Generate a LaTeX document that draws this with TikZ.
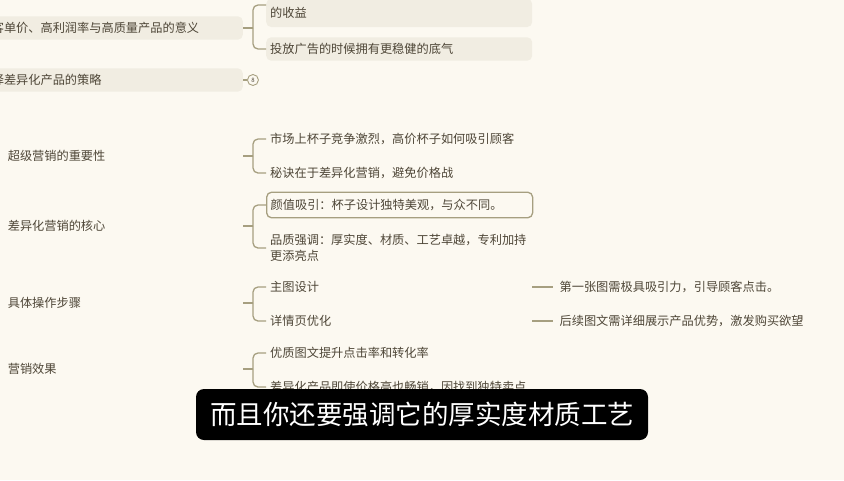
\documentclass[tikz,border=0pt]{standalone}
\usepackage{fontspec}
\setmainfont{Noto Sans CJK SC}
\definecolor{mmbg}{HTML}{FCF9F1}
\definecolor{mmtext}{HTML}{4E4637}
\definecolor{mmline}{HTML}{A69F80}
\definecolor{mmshade}{HTML}{F1EDE2}
\usetikzlibrary{positioning}

\begin{document}
\begin{tikzpicture}[x=1pt, y=-1pt,
  topic/.style={anchor=east, inner xsep=4pt, inner ysep=3pt, text width=231pt, align=left,
    text=mmtext, font=\fontsize{12.2}{16}\selectfont},
  sub/.style={anchor=west, inner xsep=4pt, inner ysep=3pt, text width=258pt, align=left,
    text=mmtext, font=\fontsize{12.2}{16}\selectfont},
  leaf/.style={inner xsep=6pt, inner ysep=3pt, text=mmtext, font=\fontsize{12.2}{16}\selectfont},
  shaded/.style={fill=mmshade, rounded corners=5pt, inner ysep=6pt},
  branch/.style={draw=mmline, line width=1.3pt, rounded corners=5pt}]

  % Canvas
  \useasboundingbox (0,0) rectangle (844,480);
  \fill[mmbg] (0,0) rectangle (844,480);
  \clip (0,0) rectangle (844,480);

  % Topics
  \node[topic, shaded, text width=247pt] (value) at (243,28) {客单价、高利润率与高质量产品的意义};
  \node[topic, shaded, text width=247pt] (strategy) at (243,80) {择差异化产品的策略};
  \node[topic] (importance) at (243,156) {超级营销的重要性};
  \node[topic] (core) at (243,226) {差异化营销的核心};
  \node[topic] (steps) at (243,303) {具体操作步骤};
  \node[topic] (effect) at (243,369) {营销效果};

  % Subtopics
  \node[sub, shaded, minimum height=28pt] (income) at (266,13) {的收益};
  \node[sub, shaded] (confidence) at (266,49) {投放广告的时候拥有更稳健的底气};
  \node[sub] (market) at (266,139) {市场上杯子竞争激烈，高价杯子如何吸引顾客};
  \node[sub] (secret) at (266,173) {秘诀在于差异化营销，避免价格战};
  \node[sub, draw=mmline, line width=1.3pt, rounded corners=5pt, inner ysep=7pt] (looks) at (266,205)
    {颜值吸引：杯子设计独特美观，与众不同。};
  \node[sub] (quality) at (266,248) {品质强调：厚实度、材质、工艺卓越，专利加持\\更添亮点};
  \node[sub] (mainpic) at (266,287) {主图设计};
  \node[sub] (detail) at (266,321) {详情页优化};
  \node[sub] (convert) at (266,353) {优质图文提升点击率和转化率};
  \node[sub] (sellwell) at (266,387) {差异化产品即使价格高也畅销，因找到独特卖点};

  % Leaves
  \node[leaf, right=21pt of mainpic] (firstpic) {第一张图需极具吸引力，引导顾客点击。};
  \node[leaf, right=21pt of detail] (showoff) {后续图文需详细展示产品优势，激发购买欲望};

  % Branches
  \draw[branch] (value.east) -- ++(10,0) coordinate (h1);
  \draw[branch] (h1) |- ([yshift=8pt]income.west);
  \draw[branch] (h1) |- (confidence.west);
  \draw[branch] (strategy.east) -- ++(4,0)
    node[right, circle, draw=mmline, line width=0.9pt, inner sep=0pt, minimum size=11pt,
      text=mmtext, font=\fontsize{6}{6}\selectfont] (fold) {8};
  \draw[branch] (importance.east) -- ++(10,0) coordinate (h3);
  \draw[branch] (h3) |- (market.west);
  \draw[branch] (h3) |- (secret.west);
  \draw[branch] (core.east) -- ++(10,0) coordinate (h4);
  \draw[branch] (h4) |- (looks.west);
  \draw[branch] (h4) |- (quality.west);
  \draw[branch] (steps.east) -- ++(10,0) coordinate (h5);
  \draw[branch] (h5) |- (mainpic.west);
  \draw[branch] (h5) |- (detail.west);
  \draw[branch] (effect.east) -- ++(10,0) coordinate (h6);
  \draw[branch] (h6) |- (convert.west);
  \draw[branch] (h6) |- (sellwell.west);
  \draw[branch] (mainpic.east) -- (firstpic.west);
  \draw[branch] (detail.east) -- (showoff.west);

  % Subtitle
  \node[fill=black, text=white, rounded corners=8pt, minimum width=452pt, minimum height=51pt,
    font=\fontsize{26.5}{30}\selectfont] (caption) at (422,414.5) {而且你还要强调它的厚实度材质工艺};
\end{tikzpicture}
\end{document}
